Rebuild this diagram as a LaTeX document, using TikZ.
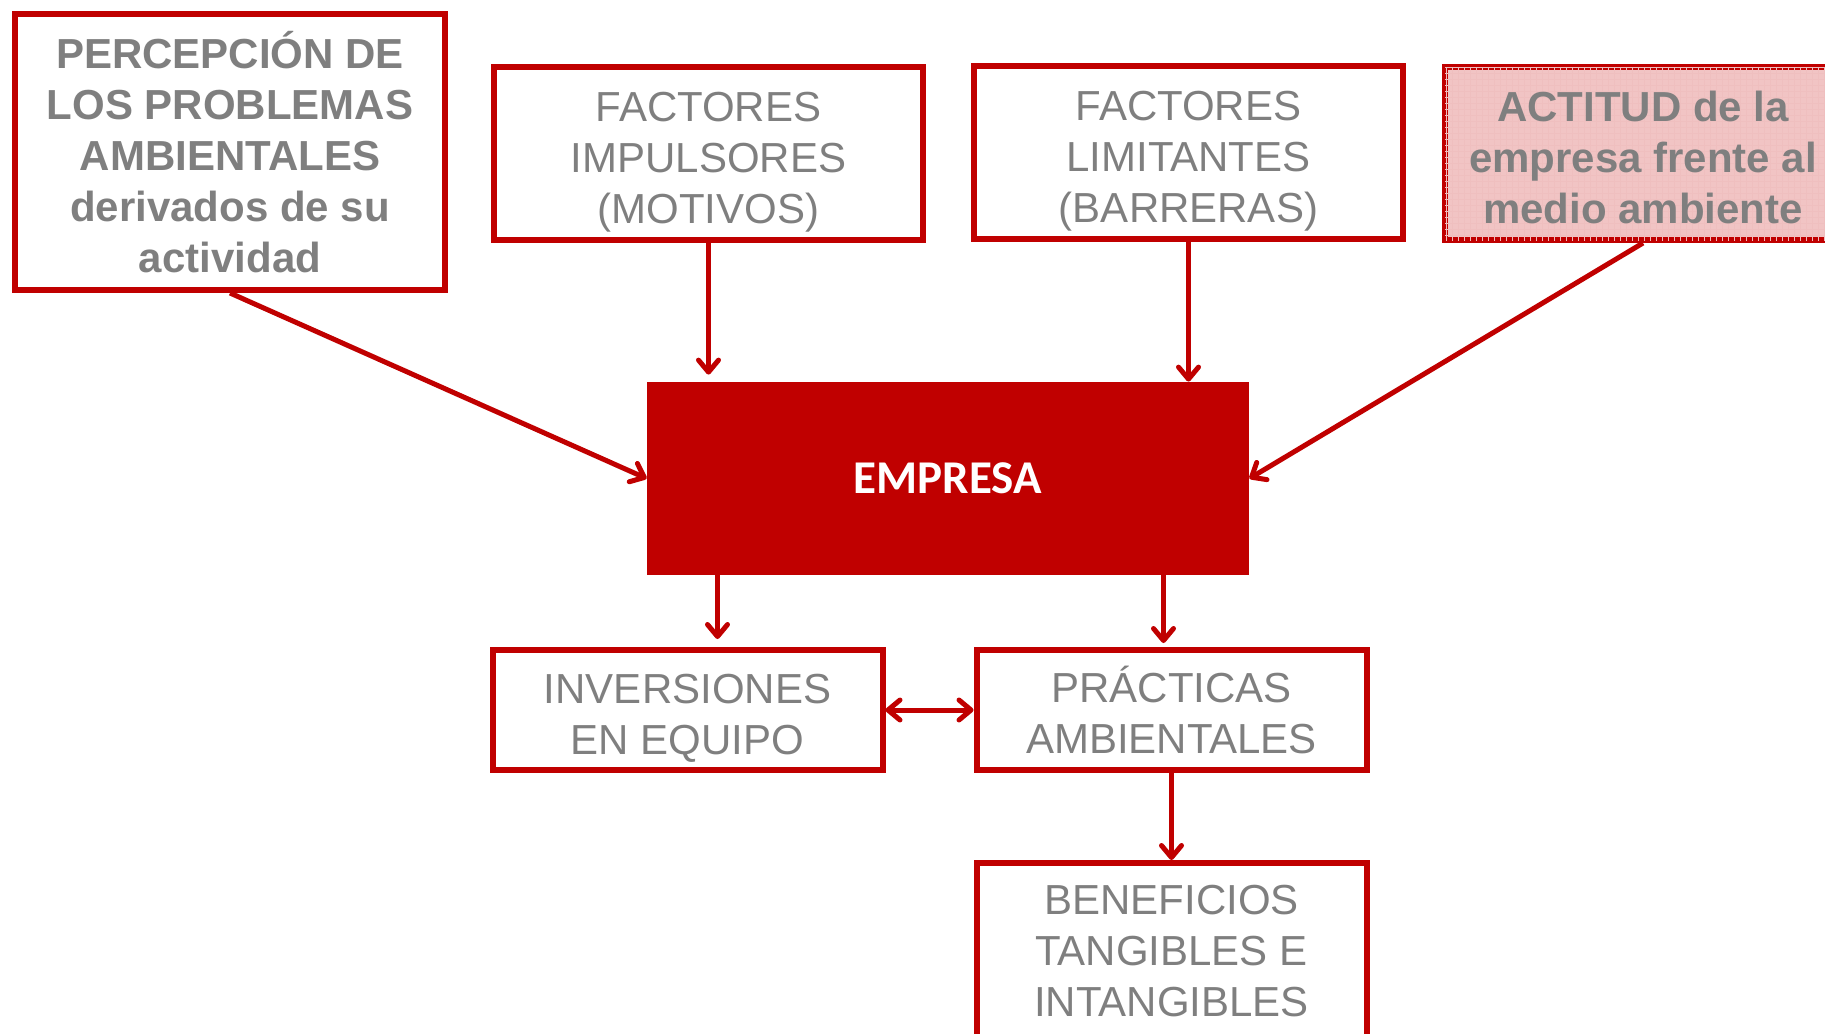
\documentclass[tikz,border=0pt]{standalone}
\usepackage{fontspec}
\setmainfont{Liberation Sans}
\newfontfamily\calibri{Carlito}
\usetikzlibrary{arrows.meta,patterns}

\definecolor{rojo}{RGB}{192,0,0}
\definecolor{gris}{RGB}{127,127,127}
\definecolor{rosa}{RGB}{241,196,196}

\tikzset{
  caja/.style={draw=rojo, line width=3pt, text=gris, align=center, inner sep=0pt,
    font=\fontsize{21}{25.5}\selectfont},
  negrita/.style={font=\bfseries\fontsize{21}{25.5}\selectfont},
  punta/.tip={Straight Barb[length=6pt,width=10pt,round]},
  flecha/.style={draw=rojo, line width=2.5pt, -punta},
}

\begin{document}
\begin{tikzpicture}[x=0.5pt, y=-0.5pt]

    \useasboundingbox (0,0) rectangle (1825,1033);

    \node[caja, negrita, minimum width=215pt, minimum height=138pt] (perc) at (230,152)
        {PERCEPCIÓN DE\\LOS PROBLEMAS\\AMBIENTALES\\derivados de su\\actividad};
    \node[caja, text height=69.8pt, text depth=0pt, minimum width=214.5pt, minimum height=86.5pt] (imp) at (708.5,153.5)
        {FACTORES\\IMPULSORES\\(MOTIVOS)};
    \node[caja, text height=69.8pt, text depth=0pt, minimum width=214.5pt, minimum height=86.5pt] (lim) at (1188.5,152.5)
        {FACTORES\\LIMITANTES\\(BARRERAS)};
    \node[caja, negrita, text height=69.8pt, text depth=0pt, fill=rosa,
        postaction={pattern=grid, pattern color=rojo!25},
        minimum width=198pt, minimum height=86.5pt] (act) at (1643,153.5)
        {ACTITUD de la\\empresa frente al\\medio ambiente};

    \node[fill=rojo, text=white, minimum width=301pt, minimum height=96.5pt,
        font=\calibri\bfseries\fontsize{23.5}{28}\selectfont] (emp) at (948,478.5) {EMPRESA};

    \node[caja, text height=44.3pt, text depth=0pt, minimum width=195pt, minimum height=60pt] (inv) at (687.5,710)
        {INVERSIONES\\EN EQUIPO};
    \node[caja, minimum width=195pt, minimum height=60pt] (prac) at (1171.5,710)
        {PRÁCTICAS\\AMBIENTALES};
    \node[caja, minimum width=195pt, minimum height=88pt] (ben) at (1171.5,951)
        {BENEFICIOS\\TANGIBLES E\\INTANGIBLES};

    \draw[flecha] (perc.south) -- (emp.west);
    \draw[flecha, shorten >=3.5pt] (imp.south) -- (imp.south |- emp.north);
    \draw[flecha] (lim.south) -- (lim.south |- emp.north);
    \draw[flecha] (act.south) -- (emp.east);

    \draw[flecha, shorten >=4pt] ([xshift=15pt]inv.north |- emp.south) -- ([xshift=15pt]inv.north);
    \draw[flecha, shorten >=2pt] ([xshift=-4pt]prac.north |- emp.south) -- ([xshift=-4pt]prac.north);
    \draw[flecha, punta-punta] (inv.east) -- (prac.west);
    \draw[flecha] (prac.south) -- (ben.north);

\end{tikzpicture}
\end{document}
